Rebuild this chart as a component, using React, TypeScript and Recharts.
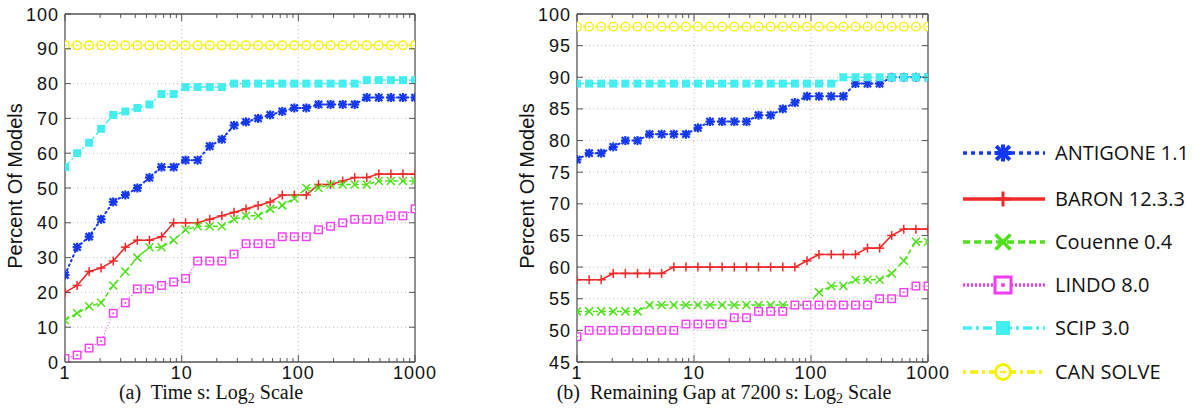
import { LineChart, Line, XAxis, YAxis, CartesianGrid, ReferenceLine } from "recharts";

// x positions of the samples (log spaced, 1 .. 1000)
const SAMPLE_X = [
  1, 1.27, 1.61, 2.04, 2.59, 3.29, 4.17, 5.29, 6.72, 8.53, 10.8, 13.7, 17.4, 22.1, 28.1,
  35.6, 45.2, 57.4, 72.8, 92.4, 117, 149, 189, 240, 304, 386, 489, 621, 788, 1000,
];

// (a) Time
const TIME_ANTIGONE = [25, 33, 36, 41, 46, 48, 50, 53, 56, 56, 58, 58, 62, 64, 68, 69, 70, 71, 72, 73, 73, 74, 74, 74, 74, 76, 76, 76, 76, 76];
const TIME_BARON = [20, 22, 26, 27, 29, 33, 35, 35, 36, 40, 40, 40, 41, 42, 43, 44, 45, 46, 48, 48, 48, 51, 51, 52, 53, 53, 54, 54, 54, 54];
const TIME_COUENNE = [12, 14, 16, 17, 22, 26, 30, 33, 33, 35, 38, 39, 39, 39, 41, 42, 42, 44, 45, 47, 50, 50, 51, 51, 51, 51, 52, 52, 52, 52];
const TIME_LINDO = [1, 2, 4, 6, 14, 17, 21, 21, 22, 23, 24, 29, 29, 29, 31, 34, 34, 34, 36, 36, 36, 38, 39, 40, 41, 41, 41, 42, 42, 44];
const TIME_SCIP = [56, 60, 63, 67, 71, 72, 73, 74, 77, 77, 79, 79, 79, 79, 80, 80, 80, 80, 80, 80, 80, 80, 80, 80, 80, 81, 81, 81, 81, 81];
const TIME_CAN = [91, 91, 91, 91, 91, 91, 91, 91, 91, 91, 91, 91, 91, 91, 91, 91, 91, 91, 91, 91, 91, 91, 91, 91, 91, 91, 91, 91, 91, 91];

// (b) Remaining gap
const GAP_ANTIGONE = [77, 78, 78, 79, 80, 80, 81, 81, 81, 81, 82, 83, 83, 83, 83, 84, 84, 85, 86, 87, 87, 87, 87, 89, 89, 89, 90, 90, 90, 90];
const GAP_BARON = [58, 58, 58, 59, 59, 59, 59, 59, 60, 60, 60, 60, 60, 60, 60, 60, 60, 60, 60, 61, 62, 62, 62, 62, 63, 63, 65, 66, 66, 66];
const GAP_COUENNE = [53, 53, 53, 53, 53, 53, 54, 54, 54, 54, 54, 54, 54, 54, 54, 54, 54, 54, 54, 54, 56, 57, 57, 58, 58, 58, 59, 61, 64, 64];
const GAP_LINDO = [49, 50, 50, 50, 50, 50, 50, 50, 50, 51, 51, 51, 51, 52, 52, 53, 53, 53, 54, 54, 54, 54, 54, 54, 54, 55, 55, 56, 57, 57];
const GAP_SCIP = [89, 89, 89, 89, 89, 89, 89, 89, 89, 89, 89, 89, 89, 89, 89, 89, 89, 89, 89, 89, 89, 89, 90, 90, 90, 90, 90, 90, 90, 90];
const GAP_CAN = [98, 98, 98, 98, 98, 98, 98, 98, 98, 98, 98, 98, 98, 98, 98, 98, 98, 98, 98, 98, 98, 98, 98, 98, 98, 98, 98, 98, 98, 98];

const X_TICKS = [1, 2, 3, 4, 5, 6, 7, 8, 9, 10, 20, 30, 40, 50, 60, 70, 80, 90, 100, 200, 300, 400, 500, 600, 700, 800, 900, 1000];
const X_LABELS = [1, 10, 100, 1000];
const TIME_Y_TICKS = [0, 10, 20, 30, 40, 50, 60, 70, 80, 90, 100];
const GAP_Y_TICKS = [45, 50, 55, 60, 65, 70, 75, 80, 85, 90, 95, 100];

const FRAME = "#555";
const TICK_FONT = "'Liberation Sans', Arial, sans-serif";

type Shape = "star" | "plus" | "cross" | "square" | "filled" | "circle";

const SERIES: { key: string; name: string; color: string; dash?: string; width: number; shape: Shape; legendDash?: string }[] = [
  { key: "antigone", name: "ANTIGONE 1.1", color: "#1438f0", dash: "1.5 3.5", width: 2, shape: "star", legendDash: "4 4" },
  { key: "baron", name: "BARON 12.3.3", color: "#ee2a2a", width: 1.6, shape: "plus" },
  { key: "couenne", name: "Couenne 0.4", color: "#4fe01c", dash: "5 3", width: 1.5, shape: "cross", legendDash: "7 4" },
  { key: "lindo", name: "LINDO 8.0", color: "#f03cf0", dash: "1 2", width: 1.2, shape: "square", legendDash: "2 2" },
  { key: "scip", name: "SCIP 3.0", color: "#44eeee", dash: "7 3 2 3", width: 1.5, shape: "filled", legendDash: "9 4 3 4" },
  { key: "can", name: "CAN SOLVE", color: "#f2f20a", dash: "3 3", width: 1.5, shape: "circle", legendDash: "3 4 8 4" },
];

const timeRows = SAMPLE_X.map((x, i) => ({
  x,
  antigone: TIME_ANTIGONE[i],
  baron: TIME_BARON[i],
  couenne: TIME_COUENNE[i],
  lindo: TIME_LINDO[i],
  scip: TIME_SCIP[i],
  can: TIME_CAN[i],
}));

const gapRows = SAMPLE_X.map((x, i) => ({
  x,
  antigone: GAP_ANTIGONE[i],
  baron: GAP_BARON[i],
  couenne: GAP_COUENNE[i],
  lindo: GAP_LINDO[i],
  scip: GAP_SCIP[i],
  can: GAP_CAN[i],
}));

function Marker({ cx, cy, shape, color, size, sw }: { cx: number; cy: number; shape: Shape; color: string; size: number; sw: number }) {
  const h = size / 2;
  if (shape === "star") {
    const d = h * 0.8;
    return (
      <g stroke={color} strokeWidth={sw}>
        <line x1={cx - h} y1={cy} x2={cx + h} y2={cy} />
        <line x1={cx} y1={cy - h} x2={cx} y2={cy + h} />
        <line x1={cx - d} y1={cy - d} x2={cx + d} y2={cy + d} />
        <line x1={cx - d} y1={cy + d} x2={cx + d} y2={cy - d} />
      </g>
    );
  }
  if (shape === "plus") {
    return (
      <g stroke={color} strokeWidth={sw}>
        <line x1={cx - h} y1={cy} x2={cx + h} y2={cy} />
        <line x1={cx} y1={cy - h} x2={cx} y2={cy + h} />
      </g>
    );
  }
  if (shape === "cross") {
    return (
      <g stroke={color} strokeWidth={sw}>
        <line x1={cx - h} y1={cy - h} x2={cx + h} y2={cy + h} />
        <line x1={cx - h} y1={cy + h} x2={cx + h} y2={cy - h} />
      </g>
    );
  }
  if (shape === "square") {
    return (
      <g>
        <rect x={cx - h} y={cy - h} width={size} height={size} fill="#fff" stroke={color} strokeWidth={sw} />
        <rect x={cx - sw * 0.6} y={cy - sw * 0.6} width={sw * 1.2} height={sw * 1.2} fill={color} />
      </g>
    );
  }
  if (shape === "filled") {
    return <rect x={cx - h} y={cy - h} width={size} height={size} fill={color} />;
  }
  return (
    <g>
      <circle cx={cx} cy={cy} r={h} fill="#fff" stroke={color} strokeWidth={sw} />
      <line x1={cx - h * 0.4} y1={cy} x2={cx + h * 0.4} y2={cy} stroke={color} strokeWidth={sw * 0.8} />
    </g>
  );
}

const CHART_MARK: Record<Shape, { size: number; sw: number }> = {
  star: { size: 9, sw: 2.2 },
  plus: { size: 9, sw: 1.5 },
  cross: { size: 8, sw: 1.5 },
  square: { size: 7.5, sw: 1.4 },
  filled: { size: 8, sw: 0 },
  circle: { size: 8.5, sw: 1.4 },
};

function BottomTick(props: any) {
  const { x, y, payload } = props;
  const major = X_LABELS.includes(payload.value);
  return (
    <g>
      <line x1={x} x2={x} y1={y} y2={y - (major ? 7 : 4)} stroke={FRAME} />
      {major && (
        <text x={x} y={y + 17} textAnchor="middle" fontFamily={TICK_FONT} fontSize={18} letterSpacing={1} fill="#111">
          {payload.value}
        </text>
      )}
    </g>
  );
}

function TopTick(props: any) {
  const { x, y, payload } = props;
  const major = X_LABELS.includes(payload.value);
  return <line x1={x} x2={x} y1={y} y2={y + (major ? 7 : 4)} stroke={FRAME} />;
}

function LeftTick(props: any) {
  const { x, y, payload } = props;
  return (
    <g>
      <line x1={x} x2={x + 6} y1={y} y2={y} stroke={FRAME} />
      <text x={x - 6} y={y + 6.5} textAnchor="end" fontFamily={TICK_FONT} fontSize={18} letterSpacing={1} fill="#111">
        {payload.value}
      </text>
    </g>
  );
}

function RightTick(props: any) {
  const { x, y } = props;
  return <line x1={x} x2={x - 6} y1={y} y2={y} stroke={FRAME} />;
}

function Panel({ rows, yDomain, yTicks, margin }: { rows: any[]; yDomain: [number, number]; yTicks: number[]; margin: any }) {
  return (
    <LineChart width={480} height={412} data={rows} margin={margin}>
      <CartesianGrid vertical={false} stroke="#bbb" strokeDasharray="1 3" />
      <ReferenceLine x={10} stroke="#bbb" strokeDasharray="1 3" />
      <ReferenceLine x={100} stroke="#bbb" strokeDasharray="1 3" />
      <XAxis
        dataKey="x"
        type="number"
        scale="log"
        domain={[1, 1000]}
        allowDataOverflow
        ticks={X_TICKS}
        interval={0}
        height={1}
        tickSize={0}
        tickMargin={0}
        tick={<BottomTick />}
        axisLine={{ stroke: FRAME, strokeWidth: 1.3 }}
        tickLine={false}
      />
      <XAxis
        xAxisId="top"
        orientation="top"
        dataKey="x"
        type="number"
        scale="log"
        domain={[1, 1000]}
        allowDataOverflow
        ticks={X_TICKS}
        interval={0}
        height={1}
        tickSize={0}
        tickMargin={0}
        tick={<TopTick />}
        axisLine={{ stroke: FRAME, strokeWidth: 1.3 }}
        tickLine={false}
      />
      <YAxis
        type="number"
        domain={yDomain}
        allowDataOverflow
        ticks={yTicks}
        interval={0}
        width={1}
        tickSize={0}
        tickMargin={0}
        tick={<LeftTick />}
        axisLine={{ stroke: FRAME, strokeWidth: 1.3 }}
        tickLine={false}
      />
      <YAxis
        yAxisId="right"
        orientation="right"
        type="number"
        domain={yDomain}
        allowDataOverflow
        ticks={yTicks}
        interval={0}
        width={1}
        tickSize={0}
        tickMargin={0}
        tick={<RightTick />}
        axisLine={{ stroke: FRAME, strokeWidth: 1.3 }}
        tickLine={false}
      />
      {SERIES.map((s) => (
        <Line
          key={s.key}
          type="linear"
          dataKey={s.key}
          name={s.name}
          stroke={s.color}
          strokeWidth={s.width}
          strokeDasharray={s.dash}
          strokeLinecap={s.key === "antigone" ? "round" : "butt"}
          dot={(p: any) => (
            <Marker
              key={`${s.key}-${p.index}`}
              cx={p.cx}
              cy={p.cy}
              shape={s.shape}
              color={s.color}
              size={CHART_MARK[s.shape].size}
              sw={CHART_MARK[s.shape].sw}
            />
          )}
          activeDot={false}
          isAnimationActive={false}
        />
      ))}
    </LineChart>
  );
}

const LEGEND_MARK: Record<Shape, { size: number; sw: number }> = {
  star: { size: 17, sw: 4 },
  plus: { size: 15, sw: 3 },
  cross: { size: 15, sw: 3.5 },
  square: { size: 16, sw: 3 },
  filled: { size: 14, sw: 0 },
  circle: { size: 15, sw: 3 },
};

function ChartLegend() {
  const rowY = [153, 199, 242, 285, 328, 372];
  return (
    <svg width={1204} height={412} style={{ position: "absolute", left: 0, top: 0, pointerEvents: "none" }}>
      {SERIES.map((s, i) => (
        <g key={s.key}>
          <line x1={963} x2={1045} y1={rowY[i]} y2={rowY[i]} stroke={s.color} strokeWidth={3.5} strokeDasharray={s.legendDash} />
          <Marker cx={1003} cy={rowY[i]} shape={s.shape} color={s.color} size={LEGEND_MARK[s.shape].size} sw={LEGEND_MARK[s.shape].sw} />
          <text x={1055} y={rowY[i] + 7} fontFamily="'Open Sans', 'Noto Sans', sans-serif" fontSize={20} fill="#111">
            {s.name}
          </text>
        </g>
      ))}
      <text transform="translate(22,186) rotate(-90)" textAnchor="middle" fontFamily={TICK_FONT} fontSize={20} fill="#111">
        Percent Of Models
      </text>
      <text transform="translate(534,186) rotate(-90)" textAnchor="middle" fontFamily={TICK_FONT} fontSize={20} fill="#111">
        Percent Of Models
      </text>
      <text x={211} y={399} textAnchor="middle" fontFamily="'Liberation Serif', 'Times New Roman', serif" fontSize={20} fill="#111" style={{ whiteSpace: "pre" }}>
        {"(a)  Time s: Log"}
        <tspan dy={4} fontSize={14}>2</tspan>
        <tspan dy={-4}>{" Scale"}</tspan>
      </text>
      <text x={724} y={399} textAnchor="middle" fontFamily="'Liberation Serif', 'Times New Roman', serif" fontSize={20} fill="#111" style={{ whiteSpace: "pre" }}>
        {"(b)  Remaining Gap at 7200 s: Log"}
        <tspan dy={4} fontSize={14}>2</tspan>
        <tspan dy={-4}>{" Scale"}</tspan>
      </text>
    </svg>
  );
}

export default function App() {
  return (
    <div style={{ position: "absolute", left: 0, top: 0, width: 1204, height: 412, background: "#fff", overflow: "hidden" }}>
      <div style={{ position: "absolute", left: 0, top: 0 }}>
        <Panel rows={timeRows} yDomain={[0, 100]} yTicks={TIME_Y_TICKS} margin={{ top: 13, right: 64, bottom: 49, left: 64 }} />
      </div>
      <div style={{ position: "absolute", left: 500, top: 0 }}>
        <Panel rows={gapRows} yDomain={[45, 100]} yTicks={GAP_Y_TICKS} margin={{ top: 13, right: 51, bottom: 49, left: 76 }} />
      </div>
      <ChartLegend />
    </div>
  );
}
